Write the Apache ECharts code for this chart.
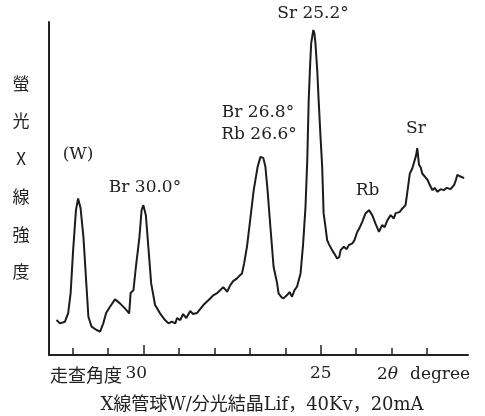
<!DOCTYPE html>
<html><head><meta charset="utf-8">
<script src="https://cdn.jsdelivr.net/npm/echarts@6/dist/echarts.min.js"></script>
<style>html,body{margin:0;padding:0;background:#fff}#c{width:485px;height:416px}</style>
</head><body><div id="c"></div>
<script>
// 2θ (degree) scanning angle
const twoTheta = [32.45,32.35,32.21,32.12,32.05,31.98,31.90,31.84,31.77,31.69,
31.62,31.55,31.46,31.32,31.22,31.13,31.05,30.94,30.80,30.66,
30.52,30.40,30.36,30.28,30.21,30.11,30.05,30.00,29.93,29.86,
29.78,29.67,29.53,29.39,29.29,29.20,29.10,29.05,28.96,28.88,
28.79,28.68,28.60,28.49,28.40,28.31,28.16,28.02,27.92,27.83,
27.75,27.64,27.55,27.47,27.36,27.30,27.22,27.16,27.08,26.99,
26.89,26.78,26.70,26.66,26.62,26.56,26.50,26.42,26.33,26.23,
26.19,26.11,26.05,25.95,25.88,25.81,25.74,25.67,25.57,25.50,
25.43,25.38,25.34,25.30,25.27,25.21,25.18,25.15,25.10,25.06,
25.01,24.96,24.92,24.87,24.82,24.77,24.68,24.61,24.54,24.48,
24.44,24.35,24.27,24.21,24.11,24.05,23.97,23.91,23.83,23.74,
23.64,23.55,23.46,23.36,23.27,23.20,23.12,23.07,23.03,22.94,
22.89,22.84,22.78,22.70,22.61,22.54,22.49,22.42,22.35,22.31,
22.28,22.23,22.18,22.14,22.09,21.99,21.93,21.85,21.79,21.71,
21.62,21.53,21.45,21.34,21.24,21.19,21.15,21.10,21.06,20.96];
// fluorescent X-ray intensity (arbitrary units)
const intensity = [10.5,9.5,10.0,12.6,18.6,31.5,43.5,47.0,44.1,35.5,
23.5,11.5,8.5,7.5,7.0,9.5,12.6,14.5,16.7,15.5,
14.0,12.5,18.6,19.5,26.5,35.5,43.5,45.0,42.0,32.5,
21.5,15.0,12.5,10.5,9.5,10.0,9.5,11.1,10.5,12.3,
11.1,13.2,12.3,12.6,13.8,15.0,16.5,18.0,18.6,19.5,
20.4,19.0,21.0,22.2,23.0,23.7,24.5,27.5,32.5,40.5,
49.5,56.5,59.5,60.1,59.2,56.5,49.5,38.5,26.5,21.5,
18.5,17.4,17.0,18.0,18.9,17.5,19.5,20.5,24.5,33.0,
44.5,58.6,76.6,87.1,93.6,97.6,96.7,93.6,85.6,76.6,
66.1,56.5,42.6,38.7,34.5,33.3,31.5,30.3,29.0,29.4,
31.5,32.5,31.8,33.0,33.5,34.5,37.0,38.1,40.0,42.5,
43.5,42.0,39.5,37.0,39.0,38.4,40.5,39.9,42.0,41.0,
42.6,43.0,42.9,44.0,45.0,50.5,54.5,56.0,58.6,60.1,
62.1,57.1,56.2,54.5,55.0,52.6,51.1,49.5,50.2,49.0,
49.8,49.5,50.2,49.8,51.1,52.6,54.1,53.8,53.6,53.1];
const minorTicks = [32,31,30,29,28,27,26,25,24,23,22];
const majorTicks = [30,25];
const tickLabels = ['30','25'];
const yAxisTitle = ['螢','光','X','線','強','度'];
const xAxisLeftTitle = '走查角度';
const unitText = 'degree';
const caption = 'X線管球W/分光結晶Lif，40Kv，20mA';
const peakLabels = ['(W)','Br 30.0°','Br 26.8°','Rb 26.6°','Sr 25.2°','Rb','Sr'];

const SERIF = '"DejaVu Serif","Noto Sans CJK JP",serif';
const JP = '"Noto Sans CJK JP",sans-serif';
const INK = '#222';
const chart = echarts.init(document.getElementById('c'), null, {renderer:'canvas'});
const pts = twoTheta.map((t,i)=>[t,intensity[i]]);
const xBase = {type:'value', min:20.85, max:32.66, inverse:true, gridIndex:0, splitLine:{show:false}};
function txt(text, x, y, opt){
  return Object.assign({type:'text', x:x, y:y, style:Object.assign({text:text, fill:INK, font:'17px '+SERIF, textAlign:'center', textVerticalAlign:'middle'}, opt||{})});
}
chart.setOption({
  backgroundColor:'#fff',
  animation:false,
  grid:{left:49, right:17, top:22, bottom:61},
  xAxis:[
    Object.assign({}, xBase, {
      axisLine:{show:true, lineStyle:{color:INK, width:2}},
      axisTick:{show:true, inside:true, length:7, customValues:minorTicks, lineStyle:{color:INK, width:1.5}},
      axisLabel:{show:false}
    }),
    Object.assign({}, xBase, {
      position:'bottom',
      axisLine:{show:false},
      axisTick:{show:true, inside:true, length:10, customValues:majorTicks, lineStyle:{color:INK, width:1.5}},
      axisLabel:{show:true, customValues:majorTicks, margin:10, color:INK, fontFamily:SERIF, fontSize:17,
        formatter:function(v){ const i = majorTicks.indexOf(v); return i===0 ? '{a|'+tickLabels[0]+'}' : tickLabels[i]; },
        rich:{a:{fontFamily:SERIF, fontSize:17, color:INK, padding:[0,14,0,0]}}}
    })
  ],
  yAxis:{type:'value', min:0, max:100, axisLine:{show:true, onZero:false, lineStyle:{color:INK, width:2}},
    axisTick:{show:false}, axisLabel:{show:false}, splitLine:{show:false}},
  series:[{type:'line', data:pts, xAxisIndex:0, symbol:'none', smooth:false,
    lineStyle:{color:'#1c1c1c', width:2}}],
  graphic:[
    txt(yAxisTitle.join('\n'), 21, 177.5, {font:'17px '+JP, lineHeight:37.7}),
    txt(xAxisLeftTitle, 50, 375, {font:'18px '+JP, textAlign:'left'}),
    {type:'text', x:377, y:375, style:{rich:{i:{font:'italic 17px '+SERIF, fill:INK}}, text:'2{i|θ}', fill:INK, font:'17px '+SERIF, textAlign:'left', textVerticalAlign:'middle'}},
    txt(unitText, 410, 375, {textAlign:'left'}),
    txt(caption, 262, 405, {font:'18px '+SERIF}),
    txt(peakLabels[0], 78, 155),
    txt(peakLabels[1], 145, 187.5),
    txt(peakLabels[2], 258, 113),
    txt(peakLabels[3], 259, 135),
    txt(peakLabels[4], 313, 14),
    txt(peakLabels[5], 367.5, 191),
    txt(peakLabels[6], 416, 129)
  ]
});
</script></body></html>
